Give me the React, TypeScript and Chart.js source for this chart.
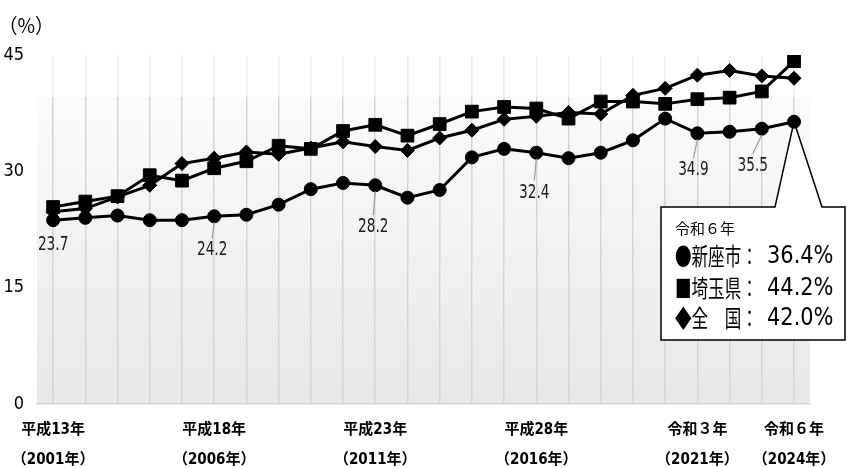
import React, { useEffect, useRef } from 'react';
import { Chart, registerables } from 'chart.js';

Chart.register(...registerables);

// ---- data ----
const years = ['2001', '2002', '2003', '2004', '2005', '2006', '2007', '2008', '2009', '2010', '2011', '2012',
  '2013', '2014', '2015', '2016', '2017', '2018', '2019', '2020', '2021', '2022', '2023', '2024'];
const niiza = [23.7, 24.0, 24.3, 23.7, 23.7, 24.2, 24.4, 25.7, 27.7, 28.5, 28.2, 26.6,
  27.6, 31.8, 32.9, 32.4, 31.7, 32.4, 34.0, 36.8, 34.9, 35.1, 35.5, 36.4];
const saitama = [25.4, 26.1, 26.8, 29.5, 28.8, 30.4, 31.3, 33.3, 32.9, 35.2, 36.0, 34.6,
  36.1, 37.7, 38.3, 38.1, 36.8, 39.0, 39.0, 38.7, 39.3, 39.5, 40.3, 44.2];
const zenkoku = [24.8, 25.2, 26.7, 28.2, 31.0, 31.7, 32.5, 32.2, 33.0, 33.8, 33.2, 32.7,
  34.3, 35.3, 36.7, 37.1, 37.6, 37.4, 39.8, 40.7, 42.4, 43.0, 42.3, 42.0];
const seriesNames = ['新座市', '埼玉県', '全国'];
const yTicks = [0, 15, 30, 45];
const shownTickIndex = [0, 5, 10, 15, 20, 23];
const tickEra = ['平成13年', '平成18年', '平成23年', '平成28年', '令和３年', '令和６年'];
const tickYear = ['（2001年）', '（2006年）', '（2011年）', '（2016年）', '（2021年）', '（2024年）'];
const labeledIndex = [0, 5, 10, 15, 20, 22];
const unitLabel = '（%）';
const calloutTitle = '令和６年';
const calloutNames = ['新座市', '埼玉県', '全　国'];
const calloutMarks = ['●', '■', '◆'];

// ---- styles ----
const NARROW = '"DejaVu Sans Condensed", "Noto Sans CJK JP", sans-serif';
const CJK = '"Noto Sans CJK JP", sans-serif';
const labelDx = [0, -2, -2, -2, -4, -9];
const labelDy = [25, 34, 42, 40, 37, 37];
const GRAD_OFFSET = 42;

const decorPlugin = {
  id: 'decor',
  beforeDraw(chart: any) {
    const { ctx, chartArea } = chart;
    const top = chartArea.top + GRAD_OFFSET;
    const g = ctx.createLinearGradient(0, top, 0, chartArea.bottom);
    g.addColorStop(0, '#fbfbfb');
    g.addColorStop(1, '#e8e8e8');
    ctx.save();
    ctx.fillStyle = g;
    ctx.fillRect(chartArea.left, top, chartArea.right - chartArea.left, chartArea.bottom - top);
    ctx.restore();
  },
  beforeDatasetsDraw(chart: any) {
    const { ctx, chartArea } = chart;
    // soften grid above the shaded band
    ctx.save();
    ctx.fillStyle = 'rgba(255,255,255,0.6)';
    ctx.fillRect(chartArea.left, chartArea.top, chartArea.right - chartArea.left, GRAD_OFFSET);
    ctx.restore();

    const meta = chart.getDatasetMeta(0);
    const p = meta.data[years.length - 1];
    ctx.save();
    ctx.beginPath();
    ctx.moveTo(661, 207);
    ctx.lineTo(775, 207);
    ctx.lineTo(p.x, p.y);
    ctx.lineTo(822, 207);
    ctx.lineTo(845, 207);
    ctx.lineTo(845, 340);
    ctx.lineTo(661, 340);
    ctx.closePath();
    ctx.fillStyle = '#ffffff';
    ctx.fill();
    ctx.lineWidth = 1.5;
    ctx.strokeStyle = '#000';
    ctx.stroke();

    // callout text
    ctx.fillStyle = '#000';
    ctx.textBaseline = 'middle';
    ctx.textAlign = 'left';
    ctx.font = `15px ${CJK}`;
    ctx.fillText(calloutTitle, 675, 228);
    const last = years.length - 1;
    const vals = [niiza[last], saitama[last], zenkoku[last]];
    const rowsY = [256, 288, 318];
    for (let i = 0; i < 3; i++) {
      ctx.save();
      ctx.translate(675, rowsY[i]);
      ctx.scale(0.69, 1);
      ctx.font = `24px ${CJK}`;
      ctx.fillText(calloutMarks[i] + calloutNames[i] + '：', 0, 0);
      ctx.restore();
      ctx.save();
      ctx.translate(767, rowsY[i] + 1);
      ctx.scale(0.97, 1);
      ctx.font = `24px ${NARROW}`;
      ctx.fillText(vals[i].toFixed(1) + '%', 0, 0);
      ctx.restore();
    }
    ctx.restore();
  },
  afterDatasetsDraw(chart: any) {
    const { ctx } = chart;
    const meta = chart.getDatasetMeta(0);
    ctx.save();
    labeledIndex.forEach((idx, k) => {
      const p = meta.data[idx];
      const lx = p.x + labelDx[k];
      const ly = p.y + labelDy[k];
      if (k > 0) {
        ctx.beginPath();
        ctx.moveTo(p.x, p.y + 6);
        ctx.lineTo(lx, ly - 12);
        ctx.strokeStyle = '#9a9a9a';
        ctx.lineWidth = 1.2;
        ctx.stroke();
      }
      ctx.save();
      ctx.translate(lx, ly);
      ctx.scale(0.8, 1);
      ctx.fillStyle = '#1a1a1a';
      ctx.font = `19px ${NARROW}`;
      ctx.textAlign = 'center';
      ctx.textBaseline = 'middle';
      ctx.fillText(niiza[idx].toFixed(1), 0, 0);
      ctx.restore();
    });
    // unit label
    ctx.save();
    ctx.translate(-1.5, 25);
    ctx.scale(0.95, 1);
    ctx.font = `20px ${CJK}`;
    ctx.fillStyle = '#000';
    ctx.textAlign = 'left';
    ctx.textBaseline = 'middle';
    ctx.fillText(unitLabel, 0, 0);
    ctx.restore();
    ctx.restore();
  },
};

export default function App() {
  const ref = useRef<HTMLCanvasElement>(null);
  useEffect(() => {
    const common = {
      borderColor: '#000',
      backgroundColor: '#000',
      pointBackgroundColor: '#000',
      pointBorderColor: '#000',
      borderWidth: 3,
      pointBorderWidth: 1,
      tension: 0,
    };
    const chart = new Chart(ref.current!, {
      type: 'line',
      data: {
        labels: years,
        datasets: [
          { ...common, label: seriesNames[0], data: niiza, pointStyle: 'circle', pointRadius: 6.5 },
          { ...common, label: seriesNames[1], data: saitama, pointStyle: 'rect', pointRadius: 9 },
          { ...common, label: seriesNames[2], data: zenkoku, pointStyle: 'rectRot', pointRadius: 7 },
        ],
      },
      options: {
        animation: false,
        responsive: true,
        maintainAspectRatio: false,
        layout: { padding: { top: 55, right: 33, left: 0, bottom: 0 } },
        plugins: {
          legend: { display: false },
          tooltip: { enabled: false },
        },
        scales: {
          x: {
            offset: true,
            grid: { display: true, offset: false, color: '#d4d4d4', lineWidth: 1.5, drawTicks: false },
            border: { display: true, color: '#d4d4d4', width: 1.5 },
            ticks: {
              autoSkip: false,
              maxRotation: 0,
              minRotation: 0,
              padding: 11,
              color: '#000',
              font: { family: NARROW, size: 15, weight: 'bold', lineHeight: '30px' } as any,
              callback: (_v: any, i: number) => {
                const k = shownTickIndex.indexOf(i);
                return k < 0 ? '' : [tickEra[k], tickYear[k]];
              },
            },
            afterFit: (s: any) => { s.height = 64; },
          },
          y: {
            min: 0,
            max: 45,
            grid: { display: false, drawTicks: false },
            border: { display: false },
            ticks: {
              stepSize: 15,
              padding: 13,
              color: '#000',
              font: { family: NARROW, size: 18 },
            },
            afterBuildTicks: (s: any) => { s.ticks = yTicks.map((v) => ({ value: v })); },
            afterFit: (s: any) => { s.width = 37; },
          },
        },
      },
      plugins: [decorPlugin],
    } as any);
    if ((document as any).fonts && (document as any).fonts.ready) {
      (document as any).fonts.ready.then(() => chart.update());
    }
    return () => chart.destroy();
  }, []);
  return (
    <div style={{ position: 'fixed', left: 0, top: 0, width: 847, height: 468, background: '#fff' }}>
      <canvas ref={ref} />
    </div>
  );
}
